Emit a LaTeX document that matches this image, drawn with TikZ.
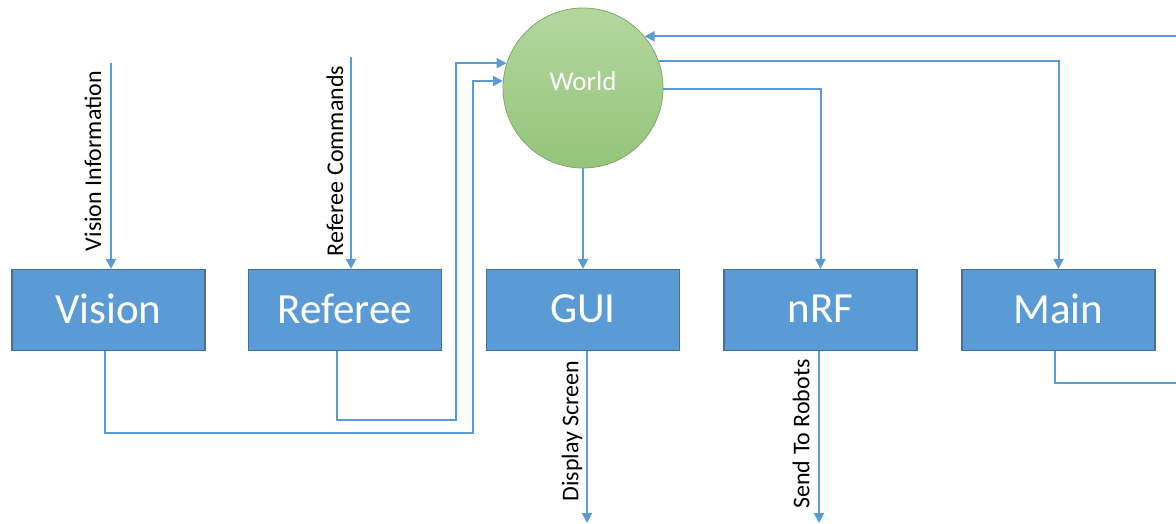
\documentclass[tikz,border=0pt]{standalone}
\usepackage{fontspec}
\setmainfont{Carlito}
\usetikzlibrary{arrows.meta,calc}
\definecolor{boxblue}{HTML}{5B9BD5}
\definecolor{boxedge}{HTML}{41719C}
\definecolor{linkblue}{HTML}{5B9BD5}
\definecolor{worldtop}{HTML}{B4D79F}
\definecolor{worldbot}{HTML}{94C47A}
\definecolor{worldedge}{HTML}{7FA968}

\begin{document}
\begin{tikzpicture}[x=1pt,y=-1pt,
  module/.style={draw=boxedge,line width=1.2pt,fill=boxblue,text=white,
    minimum width=193pt,minimum height=81pt,inner sep=0pt,
    font=\fontsize{43}{50}\selectfont},
  hub/.style={circle,draw=worldedge,line width=0.8pt,top color=worldtop,
    bottom color=worldbot,minimum size=160pt,inner sep=0pt,text=white,
    font=\fontsize{27}{32}\selectfont},
  link/.style={draw=linkblue,line width=2pt,-{Triangle[length=10pt,width=10pt]}},
  tag/.style={rotate=90,inner sep=0pt,font=\fontsize{24}{28}\selectfont}]

\fill[white] (0,0) rectangle (1176,523);
\useasboundingbox (0,0) rectangle (1176,523);

% modules
\node[module] (vision)  at (108.5,310) {\raisebox{2pt}{Vision}};
\node[module] (referee) at (345,310)   {\raisebox{2pt}{Referee}};
\node[module] (gui)     at (583,310)   {\raisebox{2pt}{GUI}};
\node[module] (nrf)     at (820.5,310) {\raisebox{2pt}{nRF}};
\node[module] (main)    at (1058.5,310){\raisebox{2pt}{Main}};
\node[hub]    (world)   at (583,88)    {\raisebox{14pt}{World}};

% external inputs
\coordinate (visIn) at (111,63);
\draw[link] (visIn) -- (visIn |- vision.north);
\node[tag] (visTag) at (93,161) {Vision Information};

\coordinate (refIn) at (351,57);
\draw[link] (refIn) -- (refIn |- referee.north);
\node[tag] (refTag) at (335,161) {Referee Commands};

% modules feeding the world model
\coordinate (visBus) at (473,433);
\draw[link] ([xshift=-4pt]vision.south) |- (visBus) |- (world.175.7);
\coordinate (refBus) at (456,420);
\draw[link] ([xshift=-8pt]referee.south) |- (refBus) |- (world.162.5);
\coordinate (mainBus) at (1179,383);
\draw[link] ([xshift=-4pt]main.south) |- (mainBus) |- (world.40.5);

% world model feeding the modules
\draw[link] (world.south) -- (gui.north);
\draw[link] (world.-1.5) -| (nrf.north);
\draw[link] (world.20.5) -| (main.north);

% outputs
\coordinate (guiOut) at (587,523);
\draw[link] (gui.south -| guiOut) -- (guiOut);
\node[tag] (guiTag) at (572,431) {Display Screen};

\coordinate (nrfOut) at (819,523);
\draw[link] (nrf.south -| nrfOut) -- (nrfOut);
\node[tag] (nrfTag) at (801,434) {Send To Robots};
\end{tikzpicture}
\end{document}
